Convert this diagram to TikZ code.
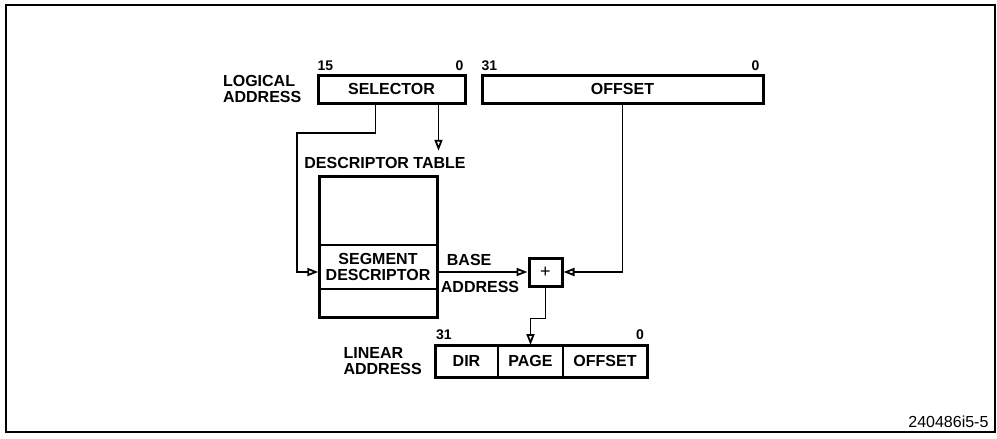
\documentclass[tikz,border=0pt]{standalone}
\usepackage{fontspec}
\setmainfont{Liberation Sans}
\usepackage{tikz}
\usetikzlibrary{calc,arrows.meta,positioning}
\newcommand{\lblfont}{\fontsize{16}{16}\selectfont\bfseries}
\newcommand{\bitfont}{\fontsize{14}{14}\selectfont\bfseries}
\tikzset{
  ar/.style={-{Triangle[open,length=11pt,width=8pt]},line width=1.8pt},
  box/.style={draw,line width=3pt,minimum height=28pt,inner sep=0pt,font=\lblfont},
  cell/.style={draw,line width=1.4pt,minimum height=32pt,inner sep=0pt,outer sep=0pt,font=\lblfont},
  lbl/.style={font=\lblfont,align=left,inner sep=0pt},
  bits/.style={font=\bitfont,inner sep=0pt}
}
\begin{document}
\begin{tikzpicture}[x=1pt,y=1pt]
\useasboundingbox (0,0) rectangle (997,-439);
\draw[line width=2pt] (6,-5) rectangle (995,-432);
\node[box,minimum width=147pt] (sel) at (391.5,-89) {SELECTOR};
\node[box,minimum width=281pt] (off) at (622.5,-89) {OFFSET};
\node[lbl,left=15pt of sel] (logaddr) {LOGICAL\\ADDRESS};
\node[bits,above right=3pt and 1pt of sel.north west] {15};
\node[bits,above left=3pt and 3pt of sel.north east] {0};
\node[bits,above right=3pt and 1pt of off.north west] {31};
\node[bits,above left=3pt and 5pt of off.north east] {0};
\node[draw,line width=1.4pt,minimum width=118pt,minimum height=44pt,inner sep=0pt,font=\lblfont,align=center] (seg) at (378,-267) {SEGMENT\\DESCRIPTOR};
\node[box,minimum width=118pt,minimum height=141pt] (tbl) at (378,-246.5) {};
\node[lbl,inner ysep=6pt,above=0pt of tbl,xshift=7pt] (dtl) {DESCRIPTOR TABLE};
\node[box,minimum width=33pt,minimum height=28pt,font=\fontsize{18}{18}\selectfont] (plus) at (545.5,-272) {+};
\coordinate (bj) at (seg.east |- plus.west);
\node[lbl,above right=6pt and 9pt of bj] (base) {BASE};
\node[lbl,below right=9pt and 3pt of bj] (baddr) {ADDRESS};
\node[cell,minimum width=63pt] (dir) at (466.5,-361) {DIR};
\node[cell,minimum width=65pt,right=0pt of dir] (page) {PAGE};
\node[cell,minimum width=84pt,right=0pt of page] (loff) {OFFSET};
\draw[line width=3pt] (dir.north west) rectangle (loff.south east);
\node[lbl,left=13pt of dir] (linaddr) {LINEAR\\ADDRESS};
\node[bits,above right=5pt and 1pt of dir.north west] {31};
\node[bits,above left=5pt and 3pt of loff.north east] {0};
\coordinate (bend) at (297,-133);
\draw[ar] ([xshift=-16pt]sel.south) |- (bend) |- (seg.west |- plus.west);
\draw[ar] (sel.south -| tbl.east) -- (tbl.east |- dtl.north);
\draw[ar] (off.south) |- (plus.east);
\draw[ar] (bj) -- (plus.west);
\draw[ar] (plus.south) -- ++(0,-31) -| (page.north);
\node[font=\fontsize{16}{16}\selectfont,anchor=base east] (figid) at (992,-427) {240486i5-5};
\end{tikzpicture}
\end{document}
